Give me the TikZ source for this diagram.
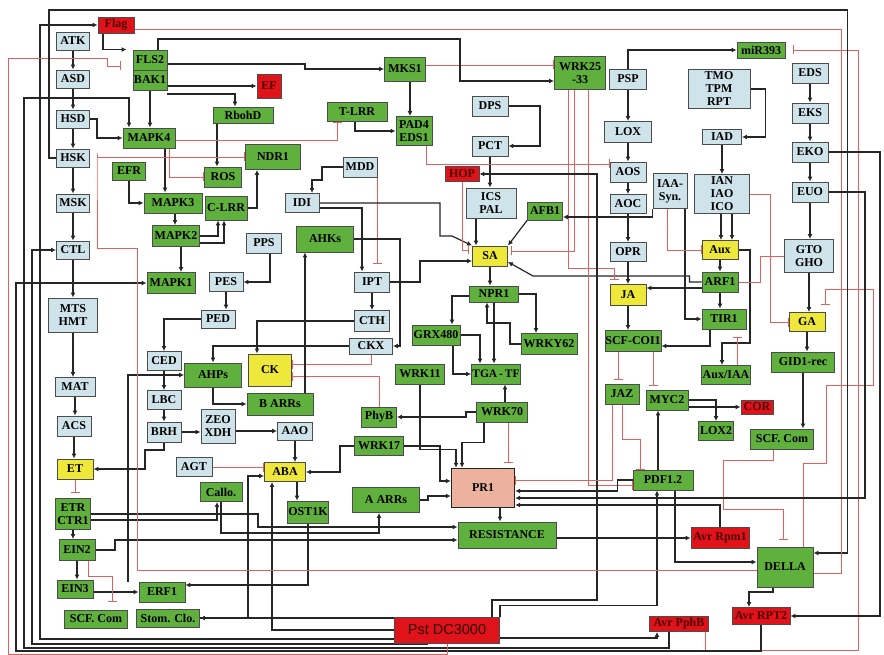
\documentclass[tikz,border=0pt]{standalone}
\usepackage{fontspec}
\setmainfont{Liberation Serif}
\newfontfamily\pstfont{Liberation Sans}
\usetikzlibrary{arrows.meta,calc,positioning}
\definecolor{boxblue}{RGB}{206,227,234}
\definecolor{boxgreen}{RGB}{96,176,62}
\definecolor{boxyellow}{RGB}{238,232,58}
\definecolor{boxred}{RGB}{224,18,26}
\definecolor{boxsalmon}{RGB}{236,178,158}
\definecolor{wirered}{RGB}{226,96,96}
\definecolor{wireblack}{RGB}{38,38,38}
\pgfdeclarelayer{bg}
\pgfsetlayers{bg,main}
\tikzset{
    net box/.style={
        draw=black!70,
        line width=0.9pt,
        inner sep=0pt,
        align=center,
        font=\fontsize{12}{13}\selectfont\bfseries
    },
    box size/.style 2 args={minimum width=#1pt, minimum height=#2pt},
    net blue/.style={net box, fill=boxblue},
    net green/.style={net box, fill=boxgreen},
    net yellow/.style={net box, fill=boxyellow},
    net red/.style={net box, fill=boxred, text=red!30!black},
    net pr/.style={net box, fill=boxsalmon, line width=1.4pt, draw=black!85},
    net wire/.style={wireblack, line width=1.2pt, -{Latex[length=5pt,width=5pt]}},
    net inh/.style={wirered, line width=0.9pt, -{Bar[width=9pt]}}
}

\begin{document}
\begin{tikzpicture}[x=1pt,y=-1pt]
    \useasboundingbox (0,0) rectangle (884,655);

    % left column
    \node[net blue, box size={33}{18}] (atk) at (73,41) {ATK};
    \node[net blue, box size={33}{18}] (asd) at (73,79) {ASD};
    \node[net blue, box size={33}{18}] (hsd) at (73,119) {HSD};
    \node[net blue, box size={33}{18}] (hsk) at (73,158) {HSK};
    \node[net blue, box size={33}{18}] (msk) at (73,203) {MSK};
    \node[net blue, box size={33}{18}] (ctl) at (73,250) {CTL};
    \node[net blue, box size={49}{34}] (mts) at (73,315) {MTS\\HMT};
    \node[net blue, box size={40}{19}] (mat) at (75,387) {MAT};
    \node[net blue, box size={34}{20}] (acs) at (74,426) {ACS};
    \node[net yellow, box size={36}{20}] (et) at (75,469) {ET};
    \node[net green, box size={35}{31}] (etr) at (73,514) {ETR\\CTR1};
    \node[net green, box size={36}{21}] (ein2) at (77,550) {EIN2};
    \node[net green, box size={36}{18}] (ein3) at (75,589) {EIN3};
    \node[net green, box size={63}{18}] (scfl) at (96,619) {SCF. Com};
    \node[net green, box size={46}{20}] (erf) at (162,592) {ERF1};
    \node[net green, box size={63}{18}] (stom) at (168,618) {Stom. Clo.};

    % PAMP / MAPK block
    \node[net red, box size={36}{16}] (flag) at (116,25) {Flag};
    \node[net green, box size={34}{20}] (fls) at (150,60) {FLS2};
    \node[net green, box size={34}{20}] (bak) at (150,80) {BAK1};
    \node[net green, box size={52}{20}] (mapk4) at (149,138) {MAPK4};
    \node[net green, box size={33}{18}] (efr) at (129,171) {EFR};
    \node[net green, box size={58}{20}] (mapk3) at (173,203) {MAPK3};
    \node[net green, box size={47}{21}] (mapk2) at (176,236) {MAPK2};
    \node[net green, box size={48}{21}] (mapk1) at (171,283) {MAPK1};
    \node[net green, box size={37}{20}] (ros) at (223,177) {ROS};
    \node[net green, box size={42}{24}] (clrr) at (226,208) {C-LRR};
    \node[net green, box size={60}{16}] (rbohd) at (243,115) {RbohD};
    \node[net red, box size={24}{24}] (ef) at (269,86) {EF};
    \node[net green, box size={41}{24}] (mks) at (405,69) {MKS1};
    \node[net green, box size={60}{19}] (tlrr) at (357,112) {T-LRR};
    \node[net green, box size={36}{29}] (pad) at (414,131) {PAD4\\EDS1};
    \node[net green, box size={55}{25}] (ndr) at (273,157) {NDR1};
    \node[net blue, box size={34}{20}] (mdd) at (360,167) {MDD};
    \node[net blue, box size={34}{19}] (idi) at (302,203) {IDI};

    % cytokinin / ABA block
    \node[net blue, box size={35}{20}] (pps) at (264,243) {PPS};
    \node[net green, box size={57}{26}] (ahks) at (325,239) {AHKs};
    \node[net blue, box size={34}{19}] (pes) at (226,282) {PES};
    \node[net blue, box size={34}{18}] (ped) at (218,319) {PED};
    \node[net blue, box size={35}{20}] (ipt) at (372,282) {IPT};
    \node[net blue, box size={35}{21}] (cth) at (372,321) {CTH};
    \node[net blue, box size={43}{16}] (ckx) at (371,346) {CKX};
    \node[net yellow, box size={43}{32}] (ck) at (270,370) {CK};
    \node[net blue, box size={34}{19}] (ced) at (164,361) {CED};
    \node[net green, box size={57}{24}] (ahps) at (213,375) {AHPs};
    \node[net blue, box size={34}{19}] (lbc) at (164,400) {LBC};
    \node[net green, box size={66}{22}] (barr) at (280,404) {B ARRs};
    \node[net blue, box size={34}{20}] (brh) at (164,432) {BRH};
    \node[net blue, box size={34}{34}] (zeo) at (218,426) {ZEO\\XDH};
    \node[net green, box size={35}{20}] (phyb) at (379,417) {PhyB};
    \node[net blue, box size={35}{18}] (aao) at (295,431) {AAO};
    \node[net blue, box size={36}{19}] (agt) at (194,467) {AGT};
    \node[net green, box size={42}{19}] (callo) at (221,492) {Callo.};
    \node[net green, box size={49}{19}] (wrk17) at (379,446) {WRK17};
    \node[net yellow, box size={41}{19}] (aba) at (285,472) {ABA};
    \node[net green, box size={41}{22}] (ost) at (308,512) {OST1K};
    \node[net green, box size={67}{25}] (aarr) at (386,500) {A ARRs};

    % SA block
    \node[net green, box size={51}{33}] (wrk25) at (580,73) {WRK25\\-33};
    \node[net blue, box size={36}{20}] (dps) at (490,106) {DPS};
    \node[net blue, box size={36}{20}] (pct) at (490,146) {PCT};
    \node[net red, box size={34}{15}] (hop) at (462,174) {HOP};
    \node[net blue, box size={50}{30}] (ics) at (491,203) {ICS\\PAL};
    \node[net green, box size={35}{18}] (afb) at (545,211) {AFB1};
    \node[net yellow, box size={35}{20}] (sa) at (490,256) {SA};
    \node[net green, box size={49}{16}] (npr) at (494,294) {NPR1};
    \node[net green, box size={48}{20}] (grx) at (436,335) {GRX480};
    \node[net green, box size={56}{21}] (wrky62) at (549,344) {WRKY62};
    \node[net green, box size={49}{20}] (wrk11) at (420,374) {WRK11};
    \node[net green, box size={49}{20}, font=\fontsize{11.5}{13}\selectfont\bfseries] (tga) at (496,374) {TGA\,-\,TF};
    \node[net green, box size={51}{20}] (wrk70) at (502,412) {WRK70};
    \node[net pr, box size={63}{39}] (pr) at (483,488) {PR1};
    \node[net green, box size={98}{26}] (res) at (507,535) {RESISTANCE};
    \node[net red, box size={105}{26}, font=\pstfont\fontsize{14.5}{16}\selectfont, text=red!20!black] (pst) at (447,630) {Pst DC3000};

    % JA block
    \node[net blue, box size={37}{20}] (psp) at (628,79) {PSP};
    \node[net blue, box size={47}{21}] (lox) at (628,132) {LOX};
    \node[net blue, box size={36}{20}] (aos) at (628,172) {AOS};
    \node[net blue, box size={36}{19}] (aoc) at (628,204) {AOC};
    \node[net blue, box size={36}{19}] (opr) at (628,252) {OPR};
    \node[net yellow, box size={36}{21}] (ja) at (628,295) {JA};
    \node[net green, box size={56}{21}] (scf) at (633,341) {SCF-COI1};
    \node[net green, box size={34}{20}] (jaz) at (622,394) {JAZ};
    \node[net green, box size={42}{20}] (myc) at (667,400) {MYC2};
    \node[net red, box size={32}{14}] (cor) at (757,407) {COR};
    \node[net green, box size={35}{19}] (lox2) at (716,431) {LOX2};
    \node[net green, box size={60}{20}] (pdf) at (663,480) {PDF1.2};

    % auxin / GA block
    \node[net green, box size={48}{16}] (mir) at (761,50) {miR393};
    \node[net blue, box size={62}{39}] (tmo) at (719,89) {TMO\\TPM\\RPT};
    \node[net blue, box size={39}{15}] (iad) at (722,137) {IAD};
    \node[net blue, box size={55}{39}] (ian) at (722,194) {IAN\\IAO\\ICO};
    \node[net blue, box size={34}{35}] (iaa) at (670,191) {IAA-\\Syn.};
    \node[net yellow, box size={36}{19}] (aux) at (720,250) {Aux};
    \node[net green, box size={36}{20}] (arf) at (720,282) {ARF1};
    \node[net green, box size={44}{20}] (tir) at (724,319) {TIR1};
    \node[net green, box size={49}{19}] (auxiaa) at (726,375) {Aux/IAA};
    \node[net blue, box size={36}{20}] (eds) at (810,73) {EDS};
    \node[net blue, box size={36}{20}] (eks) at (810,113) {EKS};
    \node[net blue, box size={36}{20}] (eko) at (810,152) {EKO};
    \node[net blue, box size={36}{20}] (euo) at (810,192) {EUO};
    \node[net blue, box size={49}{33}] (gto) at (809,256) {GTO\\GHO};
    \node[net yellow, box size={36}{19}] (ga) at (807,322) {GA};
    \node[net green, box size={63}{20}] (gid) at (803,362) {GID1-rec};
    \node[net green, box size={63}{20}] (scfr) at (782,439) {SCF. Com};
    \node[net red, box size={58}{21}] (avrrpm) at (720,538) {Avr Rpm1};
    \node[net green, box size={56}{40}] (della) at (785,567) {DELLA};
    \node[net red, box size={59}{15}] (avrpph) at (679,624) {Avr PphB};
    \node[net red, box size={58}{17}] (avrrpt) at (761,616) {Avr RPT2};

    \begin{pgfonlayer}{bg}
    \fill[white] (0,0) rectangle (884,655);

    % straight chains
    \foreach \a/\b in {atk/asd,asd/hsd,hsd/hsk,hsk/msk,msk/ctl,ctl/mts,mts/mat,mat/acs,acs/et,etr/ein2,ein2/ein3,psp/lox,lox/aos,aos/aoc,aoc/opr,opr/ja,ja/scf,eds/eks,eks/eko,eko/euo,euo/gto,gto/ga,ga/gid,gid/scfr,iad/ian,aux/arf,arf/tir,ipt/cth,ced/lbc,lbc/brh,pes/ped,sa/npr,pct/ics,aao/aba}
        \draw[net wire] (\a.south) -- (\a.south |- \b.north);

    % PAMP and MAPK wiring
    \draw[net wire] ([xshift=-13pt]flag.south) |- ([xshift=-6pt]fls.north west);
    \draw[net wire] (bak.south) -- (bak.south |- mapk4.north);
    \draw[net wire] ([xshift=16pt]mapk4.south) -- ([xshift=16pt]mapk4.south |- mapk3.north);
    \draw[net wire] (efr.south) |- (mapk3.west);
    \draw[net wire] ([xshift=2pt]mapk3.south) -- ([xshift=2pt]mapk3.south |- mapk2.north);
    \draw[net wire] ([xshift=5pt]mapk2.south) -- ([xshift=5pt]mapk2.south |- mapk1.north);
    \draw[net wire] (hsd.east) -- ++(7,0) |- (mapk4.west);
    \draw[net wire] ([xshift=-26pt]rbohd.south) -- ([xshift=-26pt]rbohd.south |- ros.north);
    \draw[net wire] ([yshift=-14pt]bak.east) -| ([xshift=-8pt]rbohd.north);
    \draw[net wire] (bak.east |- ef.west) -- (ef.west);
    \draw[net wire] ([yshift=-4pt]fls.east) -- (305,64) |- (mks.west);
    \draw[net wire] ([xshift=5pt]mks.south) -- ([xshift=5pt]mks.south |- pad.north);
    \draw[net wire] ([xshift=-2pt]tlrr.south) |- (pad.west);
    \draw[net wire] (clrr.east) -| ([xshift=-16pt]ndr.south);
    \draw[net wire] (mdd.west) -| (322,180) -| ([xshift=10pt]idi.north);
    \draw[net wire] ([yshift=-5pt]idi.east) -| ([xshift=-10pt]ipt.north);
    \draw[net wire] (mapk2.east) -| ([xshift=-8pt]clrr.south);
    \draw[net wire] ([yshift=-7pt]mapk2.east) -| ([xshift=-2pt]clrr.south);
    \draw[net inh, shorten >=8pt] ([xshift=17pt]mdd.south) -- ([xshift=17pt]mdd.south |- ipt.north);
    \draw[net inh] ([yshift=-2pt]mapk4.east) -| ([xshift=-20pt]tlrr.south);
    \draw[net inh] ([xshift=20pt]mapk4.south) |- (ros.west);
    \draw[net inh] ([yshift=4pt]mks.east) -- ([yshift=4pt]mks.east -| wrk25.west);
    \draw[net wire] ([xshift=8pt]fls.north) |- (460,39) |- ([yshift=-8pt]wrk25.west);

    % SA and PR1 wiring
    \draw[net wire] (dps.east) -| (540,146) -- (pct.east);
    \draw[net wire] ([xshift=-15pt]ics.south) -- ([xshift=-15pt]ics.south |- sa.north);
    \draw[net wire] (afb.south west) -- (sa.north east);
    \draw[net wire] (arf.west) -- ++(-12,0) |- (533,276) -- ([yshift=-6pt]sa.east);
    \draw[net wire] (idi.east) -- (440,203) |- (452,236) -- (sa.north west);
    \draw[net wire] (ipt.east) -- (420,282) |- ([yshift=-5pt]sa.west);
    \draw[net inh, shorten >=3pt] (hop.south) |- ([yshift=6pt]sa.west);
    \draw[net wire] (npr.east) -| ([xshift=-13pt]wrky62.north);
    \draw[net wire] ([yshift=-2pt]npr.west) -| ([xshift=16pt]grx.north);
    \draw[net wire] (npr.south) -- (npr.south |- tga.north);
    \draw[net wire] ([xshift=3pt]wrk70.north) -- ([xshift=3pt]wrk70.north |- tga.south);
    \draw[net wire] ([xshift=17pt]grx.south) |- (tga.west);
    \draw[net wire] (wrky62.west) -| (510,323) -| ([xshift=-7pt]npr.south);
    \draw[net wire] (grx.east) -| ([xshift=-16pt]tga.north);
    \draw[net inh, shorten >=3pt] ([xshift=-6pt]wrk25.south) |- ([yshift=5pt]sa.east);
    \draw[net inh, shorten >=4pt] ([xshift=-12pt]wrk25.south) |- ([xshift=-14pt,yshift=16pt]ja.north) -- ([xshift=-14pt]ja.north);
    \draw[net inh] ([xshift=8pt]wrk25.south) |- ([yshift=-5pt]pdf.west);
    \draw[net wire] ([xshift=45pt]pst.north) |- (597,600) -- (597,174) -- (hop.east);
    \draw[net inh] ([xshift=12pt]pad.south) |- ([yshift=8pt]aos.west);
    \draw[net wire] (iaa.south west) |- ([yshift=-6pt]afb.east);
    \draw[net wire] (wrk70.west) -- ++(-10,0) |- (phyb.east);
    \draw[net wire] (aarr.east) -- ++(8,0) |- ([yshift=-8pt]pr.west);
    \draw[net wire] (wrk17.east) -- (440,446) |- ([yshift=7pt]pr.west);
    \draw[net wire] (wrk11.south) |- ([xshift=-27pt,yshift=18pt]pr.north) -- ([xshift=-27pt]pr.north);
    \draw[net wire] ([xshift=-18pt]wrk70.south) |- ([xshift=-21pt,yshift=25pt]pr.north) -- ([xshift=-21pt]pr.north);
    \draw[net inh, shorten >=5pt] ([xshift=6pt]wrk70.south) -- ([xshift=6pt]wrk70.south |- pr.north);
    \draw[net wire] (pdf.west) -- ++(-15,0) |- ([yshift=-3pt]pr.east);
    \draw[net wire] (avrrpm.north) |- ([yshift=-17pt]pr.east);
    \draw[net wire] ([xshift=17pt]pr.south) -- ([xshift=17pt]pr.south |- res.north);

    % JA wiring
    \draw[net inh, shorten >=4pt] ([xshift=-15pt]scf.south) -- ([xshift=-15pt]scf.south |- jaz.north);
    \draw[net inh, shorten >=4pt] ([xshift=-8pt]scf.south east) -- ([xshift=-8pt]scf.south east |- myc.north);
    \draw[net inh] (jaz.south) |- ([xshift=-23pt,yshift=30pt]pdf.north) -- ([xshift=-23pt]pdf.north);
    \draw[net inh] ([xshift=-10pt]jaz.south) |- ([yshift=8pt]pr.east);
    \draw[net wire] (myc.east) -| (lox2.north);
    \draw[net wire] (myc.east |- cor.west) -- (cor.west);
    \draw[net wire] ([xshift=-5pt]pdf.north) -- ([xshift=-5pt]pdf.north |- myc.south);

    % auxin and GA wiring
    \draw[net wire] (tmo.east) -- ++(15,0) |- (iad.east);
    \draw[net wire] ([xshift=-1pt]ian.south) -- ([xshift=-1pt]ian.south |- aux.north);
    \draw[net wire] ([xshift=10pt]ian.south) -- ([xshift=10pt]ian.south |- aux.north);
    \draw[net wire] ([xshift=15pt]iaa.south) |- (tir.west);
    \draw[net wire] ([yshift=-6pt]arf.west) -- ([yshift=-6pt]arf.west -| ja.east);
    \draw[net wire] ([xshift=-14pt]tir.south) |- ([yshift=-5pt]scf.east);
    \draw[net wire] (aux.east) -| (750,343) -| ([xshift=-4pt]auxiaa.north);
    \draw[net inh, shorten >=8pt] ([xshift=11pt]auxiaa.north) -- ([xshift=11pt]auxiaa.north |- tir.south);
    \draw[net inh] ([xshift=-3pt]iaa.south) |- (aux.west);
    \draw[net inh] (ian.east) -- ++(20,0) |- (ga.west);
    \draw[net inh] (gto.west) -- (760,256) |- (arf.east);
    \draw[net inh, shorten >=7pt] ([xshift=18pt]della.north) |- (826,463) |- (873,385) -- (873,289) -| (ga.north east);
    \draw[net inh, shorten >=8pt] ([xshift=-4pt]avrpph.south east) |- (858,650) |- (mir.east);
    \draw[net wire] (psp.north) |- (mir.west);
    \draw[net inh, shorten >=7pt] ([xshift=-9pt]scfr.south) |- (723,460) |- ([xshift=-2pt,yshift=37pt]della.north) -- ([xshift=-2pt]della.north);
    \draw[net wire] ([xshift=-12pt]della.south) |- ([xshift=-12pt,yshift=15pt]avrrpt.north) -- ([xshift=-12pt]avrrpt.north);
    \draw[net wire] ([xshift=12pt]pdf.south) |- ([yshift=5pt]della.west);
    \draw[net wire] (res.east |- avrrpm.west) -- (avrrpm.west);
    \draw[net wire] ([yshift=-8pt]pst.east) -| ([xshift=-22pt]avrpph.south);
    \draw[net wire] (pst.north east) |- ([xshift=-6pt,yshift=-115pt]pdf.south) -- ([xshift=-6pt]pdf.south);

    % cytokinin and ABA wiring
    \draw[net wire] ([xshift=6pt]pps.south) |- (pes.east);
    \draw[net wire] (ped.west) -| (ced.north);
    \draw[net wire] ([xshift=-34pt]erf.north) |- (ahps.west);
    \draw[net wire] (ckx.west) -| (ahps.north);
    \draw[net wire] (cth.west) -| ([xshift=-13pt]ck.north);
    \draw[net inh] (ckx.south) |- ([yshift=6pt]ck.east);
    \draw[net inh] (phyb.north) |- ([yshift=-6pt]ck.east);
    \draw[net wire] (ahps.south) |- (barr.west);
    \draw[net wire] ([xshift=25pt]barr.north) -- ([xshift=25pt]barr.north |- ahks.south);
    \draw[net wire] (ahks.east) -- (400,239) |- (ckx.east);
    \draw[net wire] (brh.east) -- (brh.east -| zeo.west);
    \draw[net wire] (zeo.east |- aao.west) -- (aao.west);
    \draw[net inh] (agt.east) -- (agt.east -| aba.west);
    \draw[net wire] (stom.east) -| (248,476) -- ([yshift=-4pt]aba.west);
    \draw[net wire] (pst.west) -| ([xshift=-13pt]aba.south);
    \draw[net wire] ([xshift=12pt]aba.south) -- ([xshift=12pt]aba.south |- ost.north);
    \draw[net wire] (wrk17.west) -| (340,472) -- (aba.east);
    \draw[net wire] (callo.south) |- ([xshift=-7pt,yshift=-20pt]aarr.south) -- ([xshift=-7pt]aarr.south);

    % ethylene wiring
    \draw[net wire] (ein2.east) -- (115,550) |- ([yshift=-5pt]res.west);
    \draw[net wire] (etr.east) -- (258,514) |- ([yshift=8pt]res.west);
    \draw[net wire] ([yshift=-6pt]etr.east) -| ([xshift=-4pt]callo.south);
    \draw[net wire] (ein3.east |- erf.west) -- (erf.west);
    \draw[net inh, shorten >=8pt] ([xshift=11pt]ein2.south) |- ([xshift=16pt,yshift=33pt]scfl.north) -- ([xshift=16pt]scfl.north);
    \draw[net inh, shorten >=5pt] (et.south) -- (et.south |- etr.north);
    \draw[net wire] (brh.south) |- (145,450) |- (et.east);
    \draw[net wire] (ost.south) |- ([yshift=7pt]erf.east);
    \draw[net wire] (pst.west |- stom.east) -- (stom.east);

    % long outer lines
    \draw[net wire] ([yshift=-9pt]pst.west) -- (40,639) |- (flag.west);
    \draw[net wire] ([xshift=-20pt]pst.south) |- (32,644) |- (ctl.west);
    \draw[net wire] ([xshift=-10pt]avrpph.south) |- (24,648) |- (129,98) -- ([xshift=-20pt]mapk4.north);
    \draw[net wire] (avrrpt.south) |- (16,651) |- (mapk1.west);
    \draw[net inh, shorten >=12pt] (pst.south) |- (8,654) |- (107,58) |- ([yshift=-6pt]fls.west);
    \draw[net inh] ([yshift=-3pt]della.west) -| (137,248) -| (97,153) |- (ndr.west);
    \draw[net wire] (hsk.west) -| (49,10) -| ([xshift=34pt,yshift=14pt]della.east) -- ([yshift=14pt]della.east);
    \draw[net inh] ([yshift=-4pt]flag.east) -| ([xshift=28pt,yshift=-6pt]della.east) -- ([yshift=-6pt]della.east);
    \draw[net wire] (eko.east) -- (880,152) |- (avrrpt.east);
    \draw[net wire] (euo.east) -| (865,498) -- ([yshift=-10pt]pr.east);
    \end{pgfonlayer}
\end{tikzpicture}
\end{document}
